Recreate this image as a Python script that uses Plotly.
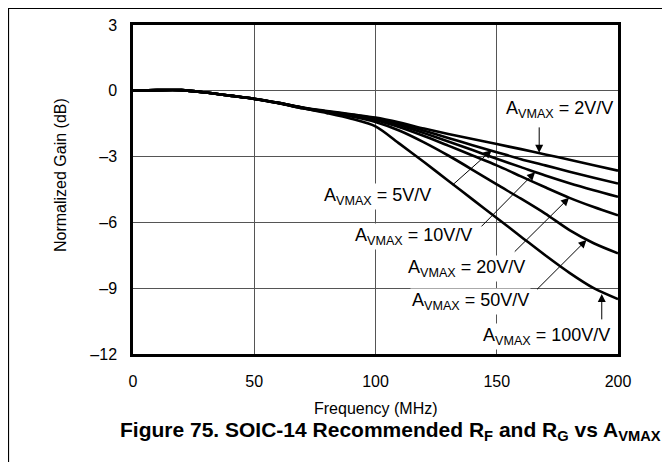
import plotly.graph_objects as go

# ---- data ----
freq_mhz = [0, 10, 20, 30, 40, 50, 60, 70, 80, 90, 100, 110, 120, 130, 140, 150, 160, 170, 180, 190, 200]
gain_2 = [0, 0.03, 0.03, -0.08, -0.22, -0.36, -0.55, -0.76, -0.92, -1.07, -1.22, -1.45, -1.72, -1.97, -2.2, -2.43, -2.66, -2.9, -3.14, -3.39, -3.64]
gain_5 = [0, 0.03, 0.03, -0.08, -0.22, -0.36, -0.55, -0.77, -0.94, -1.09, -1.26, -1.5, -1.82, -2.15, -2.48, -2.8, -3.12, -3.4, -3.69, -3.96, -4.23]
gain_10 = [0, 0.03, 0.03, -0.08, -0.22, -0.36, -0.55, -0.77, -0.95, -1.11, -1.3, -1.57, -1.93, -2.31, -2.7, -3.1, -3.48, -3.86, -4.21, -4.53, -4.83]
gain_20 = [0, 0.03, 0.03, -0.08, -0.22, -0.37, -0.56, -0.78, -0.96, -1.13, -1.34, -1.66, -2.06, -2.5, -2.95, -3.4, -3.9, -4.4, -4.88, -5.3, -5.68]
gain_50 = [0, 0.03, 0.03, -0.08, -0.22, -0.37, -0.56, -0.79, -0.98, -1.17, -1.42, -1.82, -2.35, -2.95, -3.6, -4.27, -4.92, -5.6, -6.35, -6.95, -7.41]
gain_100 = [0, 0.03, 0.03, -0.08, -0.22, -0.37, -0.57, -0.8, -1.02, -1.27, -1.62, -2.42, -3.25, -4.1, -4.95, -5.8, -6.65, -7.5, -8.3, -9.0, -9.5]
series = [gain_2, gain_5, gain_10, gain_20, gain_50, gain_100]

x_ticks = [0, 50, 100, 150, 200]
x_tick_labels = ["0", "50", "100", "150", "200"]
y_ticks = [3, 0, -3, -6, -9, -12]
y_tick_labels = ["3", "0", "\u20133", "\u20136", "\u20139", "\u201312"]

# labels: text, text position (MHz, dB), arrow tail (MHz, dB), arrow tip (MHz, dB)
label_texts = ["2V/V", "5V/V", "10V/V", "20V/V", "50V/V", "100V/V"]
label_pos = [(175.7, -0.86), (101.0, -4.83), (115.5, -6.65), (137.7, -8.1), (139.0, -9.6), (170.7, -11.2)]
arrow_tail = [(167.5, -1.6), (131.2, -4.35), (143.1, -6.25), (156.8, -7.4), (166.0, -9.12), (193.3, -10.49)]
arrow_tip = [(167.5, -2.83), (147.9, -2.71), (165.8, -3.71), (179.8, -4.88), (187.0, -6.8), (193.3, -9.27)]

# ---- layout geometry (screen pixels; the page body adds an 8 px offset) ----
W, H = 670, 462
OFF = 8
PLOT_X0, PLOT_X1, PLOT_Y0, PLOT_Y1 = 133, 618, 25, 354
L, T = PLOT_X0 - OFF, PLOT_Y0 - OFF
R, B = W - (PLOT_X1 - OFF), H - (PLOT_Y1 - OFF)
PW, PH = PLOT_X1 - PLOT_X0, PLOT_Y1 - PLOT_Y0


def px(x):
    return (x - PLOT_X0) / PW


def py(y):
    return (PLOT_Y1 - y) / PH


FONT = "Arial, Liberation Sans, Helvetica, sans-serif"

fig = go.Figure()
for s in series:
    fig.add_trace(go.Scatter(x=freq_mhz, y=s, mode="lines",
                             line=dict(color="black", width=2.6, shape="spline", smoothing=0.8),
                             showlegend=False, hoverinfo="skip"))

annotations = []
for t, (lx, ly) in zip(label_texts, label_pos):
    annotations.append(dict(x=lx, y=ly, xref="x", yref="y", showarrow=False,
                            text="A<sub>VMAX</sub> = " + t, bgcolor="white", borderpad=1,
                            font=dict(family=FONT, size=18, color="black")))
for (tx, ty), (hx, hy) in zip(arrow_tail, arrow_tip):
    annotations.append(dict(x=hx, y=hy, xref="x", yref="y", ax=tx, ay=ty, axref="x", ayref="y",
                            text="", showarrow=True, arrowhead=2, arrowsize=1.6, arrowwidth=1,
                            arrowcolor="black", standoff=0, startstandoff=0))

annotations.append(dict(x=px(60), y=py(175), xref="paper", yref="paper", showarrow=False,
                        xanchor="center", yanchor="middle",
                        text="Normalized Gain (dB)", textangle=-90,
                        font=dict(family=FONT, size=16, color="black")))
annotations.append(dict(x=px(376), y=py(408), xref="paper", yref="paper", showarrow=False,
                        xanchor="center", yanchor="middle",
                        text="Frequency (MHz)", font=dict(family=FONT, size=16, color="black")))
annotations.append(dict(x=px(390), y=py(431), xref="paper", yref="paper", showarrow=False,
                        xanchor="center", yanchor="middle",
                        text="<b>Figure 75. SOIC-14 Recommended R<sub>F</sub> and R<sub>G</sub> vs A<sub>VMAX</sub></b>",
                        font=dict(family=FONT, size=21, color="black")))

shapes = [
    dict(type="line", xref="paper", yref="paper", x0=px(8.5), x1=px(8.5), y0=py(8), y1=py(480),
         line=dict(color="black", width=1.2)),
    dict(type="line", xref="paper", yref="paper", x0=px(8), x1=px(690), y0=py(8.5), y1=py(8.5),
         line=dict(color="black", width=1.2)),
]

fig.update_layout(
    width=W, height=H,
    margin=dict(l=L, r=R, t=T, b=B, autoexpand=False),
    paper_bgcolor="white", plot_bgcolor="white",
    font=dict(family=FONT, size=16, color="black"),
    annotations=annotations, shapes=shapes,
    xaxis=dict(range=[0, 200], tickvals=x_ticks, ticktext=x_tick_labels,
               showgrid=True, gridcolor="#555", gridwidth=1, zeroline=False,
               showline=True, linecolor="black", linewidth=2.5, mirror=True,
               ticks="", ticklabelstandoff=11, tickfont=dict(size=16), automargin=False),
    yaxis=dict(range=[-12, 3], tickvals=y_ticks, ticktext=y_tick_labels,
               showgrid=True, gridcolor="#555", gridwidth=1, zeroline=False,
               showline=True, linecolor="black", linewidth=2.5, mirror=True,
               ticks="", ticklabelstandoff=10, tickfont=dict(size=16), automargin=False),
)

fig.write_html("out.html")
